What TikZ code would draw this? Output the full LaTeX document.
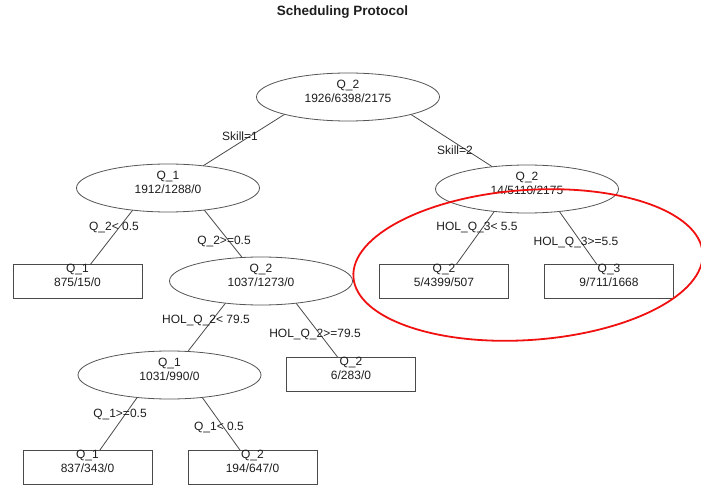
\documentclass[tikz,border=0pt]{standalone}
\usepackage{fontspec}
\setmainfont{Liberation Sans}
\usetikzlibrary{shapes.geometric,calc,backgrounds}
\definecolor{linegray}{HTML}{4A4A4A}
\definecolor{bordergray}{HTML}{555555}
\definecolor{txtcol}{HTML}{1E1E1E}
\definecolor{annot}{HTML}{F01010}
\tikzset{
  txt/.style={font=\fontsize{12}{14}\selectfont, align=center, text=txtcol, inner sep=0pt},
  splitnode/.style={ellipse, draw=bordergray, line width=0.8pt, fill=white, minimum width=183pt, minimum height=48pt, inner sep=0pt},
  leafnode/.style={rectangle, draw=linegray, line width=1pt, fill=white, minimum width=129pt, minimum height=34pt, inner sep=0pt},
  edgeline/.style={draw=linegray, line width=0.8pt},
  elabel/.style={font=\fontsize{12}{14}\selectfont, text=txtcol, inner sep=0pt},
  nt/.style={label={[txt,yshift=6pt]center:{#1}}}
}
\begin{document}
\begin{tikzpicture}[x=1pt,y=-1pt]
\useasboundingbox (0,0) rectangle (701,489);
\node[font=\bfseries\fontsize{13.5}{16}\selectfont, text=txtcol] (title) at (342.5,12) {Scheduling Protocol};
% tree nodes
\node[splitnode, nt={Q\_2\\1926/6398/2175}] (root) at (348,97) {};
\node[splitnode, nt={Q\_1\\1912/1288/0}] (q1) at (168,188) {};
\node[splitnode, nt={Q\_2\\14/5110/2175}] (q2r) at (527,189) {};
\node[leafnode, nt={Q\_1\\875/15/0}] (la) at (77.5,281) {};
\node[splitnode, nt={Q\_2\\1037/1273/0}] (q2m) at (261,281) {};
\node[leafnode, nt={Q\_2\\5/4399/507}] (lb) at (444,281.5) {};
\node[leafnode, nt={Q\_3\\9/711/1668}] (lc) at (609,281.5) {};
\node[splitnode, nt={Q\_1\\1031/990/0}] (q1b) at (169.5,375) {};
\node[leafnode, nt={Q\_2\\6/283/0}] (ld) at (351,374.5) {};
\node[leafnode, nt={Q\_1\\837/343/0}] (le) at (87.5,467.5) {};
\node[leafnode, nt={Q\_2\\194/647/0}] (lf) at (252.5,467.5) {};
% edges
\begin{pgfonlayer}{background}
\foreach \p/\c in {root/q1, root/q2r, q1/la, q1/q2m, q2r/lb, q2r/lc, q2m/q1b, q2m/ld, q1b/le, q1b/lf}{
  \coordinate (s-\c) at ($(\p.center)!0.2!(\c.center)$);
  \draw[edgeline] (\c.center) -- (s-\c |- \p.center);
}
\end{pgfonlayer}
% edge labels
\node[elabel] (e1) at (240,136) {Skill=1};
\node[elabel] (e2) at (455,150) {Skill=2};
\node[elabel] (e3) at (114,228) {Q\_2< 0.5};
\node[elabel] (e4) at (224,242) {Q\_2>=0.5};
\node[elabel] (e5) at (477,228) {HOL\_Q\_3< 5.5};
\node[elabel] (e6) at (576,243) {HOL\_Q\_3>=5.5};
\node[elabel] (e7) at (206,321) {HOL\_Q\_2< 79.5};
\node[elabel] (e8) at (315,335) {HOL\_Q\_2>=79.5};
\node[elabel] (e9) at (120,414) {Q\_1>=0.5};
\node[elabel] (e10) at (219,428) {Q\_1< 0.5};
% red annotation
\coordinate (rc) at (528,265);
\draw[annot, line width=1.8pt, rotate around={4:(rc)}] (rc) ellipse [x radius=175, y radius=75];
\end{tikzpicture}
\end{document}
